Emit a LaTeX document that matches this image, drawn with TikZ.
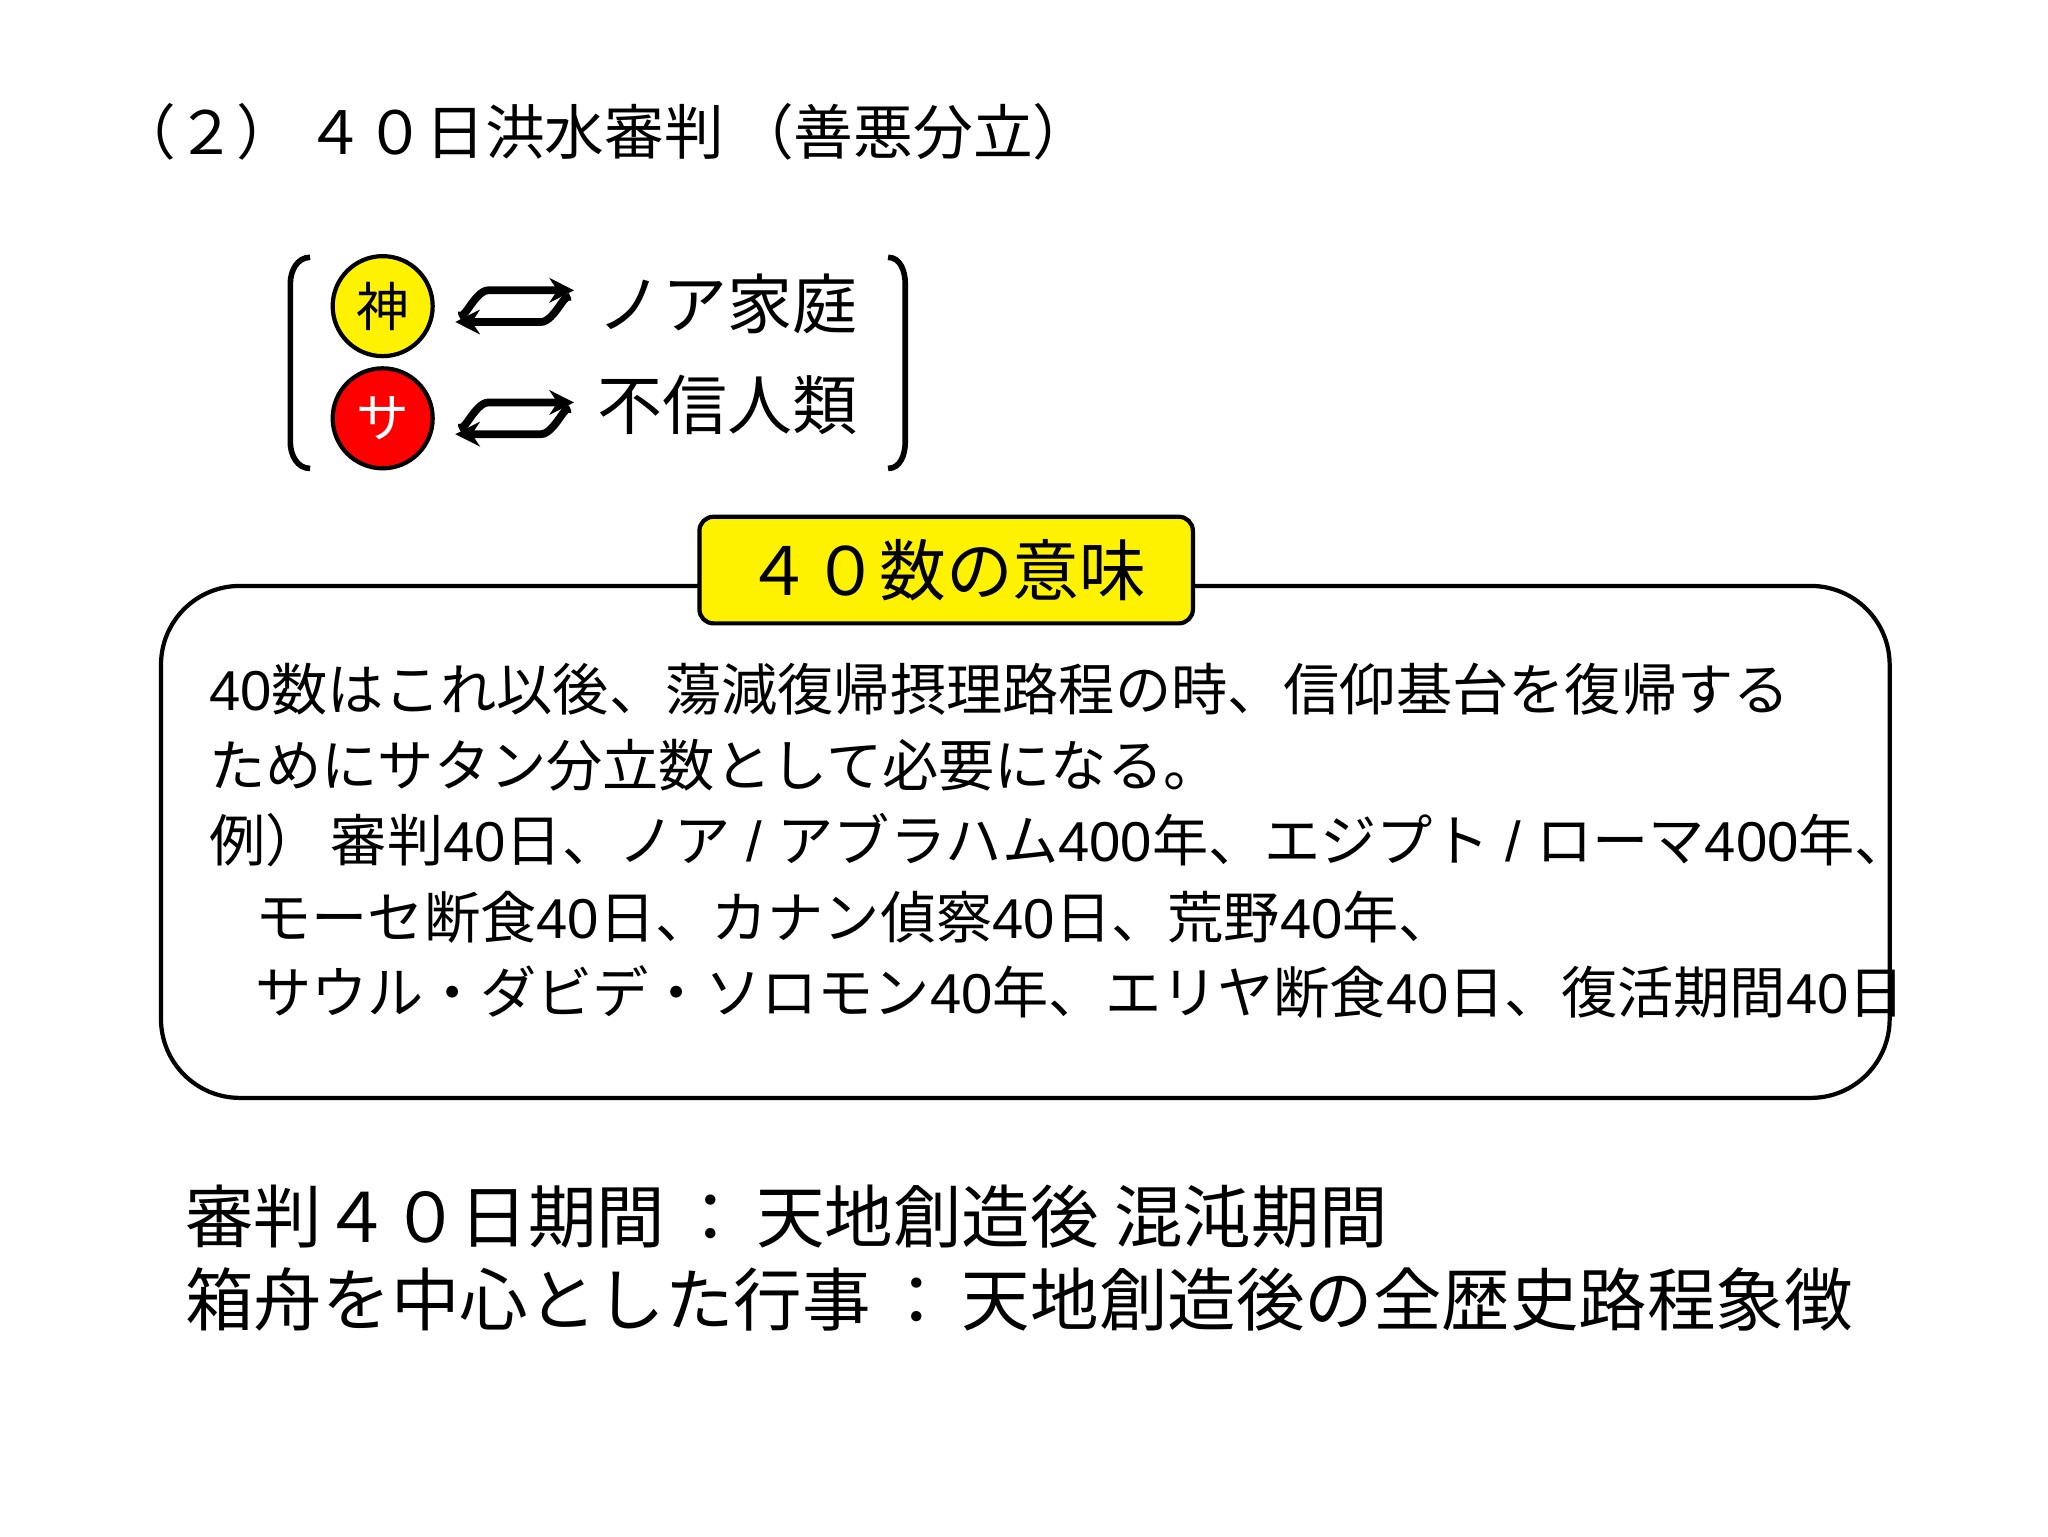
\documentclass[tikz,border=0pt]{standalone}
\usepackage{fontspec}
\usetikzlibrary{arrows.meta,calc}
\setmainfont{Noto Sans CJK JP}
\newfontfamily\lat{Liberation Sans}
\begin{document}
\begin{tikzpicture}[x=0.0132cm,y=-0.0132cm,
  txt/.style={anchor=west,inner sep=0pt},
  arr/.style={line width=2.2pt,-{Stealth[length=7pt,width=7pt]}}]
\useasboundingbox (0,0) rectangle (1552,1164);
\node[txt,font=\fontsize{17}{20}\selectfont] (title) at (88,100) {（２）\,４０日洪水審判\,（善悪分立）};
% bracket
\draw[line width=1.6pt] (235,195) to[out=180,in=90] (220,215) -- (220,335) to[out=-90,in=180] (235,355);
\draw[line width=1.6pt] (673,195) to[out=0,in=90] (686,215) -- (686,335) to[out=-90,in=0] (673,355);
\node[circle,draw,line width=1.2pt,fill=yellow,minimum size=76*0.3745pt,inner sep=0pt,font=\fontsize{15}{18}\selectfont] (kami) at (290,232) {神};
\node[circle,draw,line width=1.2pt,fill=red,text=white,minimum size=76*0.3745pt,inner sep=0pt,font=\fontsize{15}{18}\selectfont] (sa) at (290,317) {サ};
\foreach \y/\n in {232/a,317/b}{
  \coordinate (\n1) at (345,\y);
  \coordinate (\n2) at (435,\y);
  \draw[arr] ($(\n1)+(5,4)$) to[out=-90,in=180] ($(\n1)+(25,-12)$) -- ($(\n2)+(0,-12)$);
  \draw[arr] ($(\n2)+(-5,-4)$) to[out=90,in=0] ($(\n2)+(-25,12)$) -- ($(\n1)+(0,12)$);
}
\node[txt,font=\fontsize{18.5}{22}\selectfont] (noa) at (452,230) {ノア家庭};
\node[txt,font=\fontsize{18.5}{22}\selectfont] (fushin) at (452,307) {不信人類};
% big box
\draw[line width=1.2pt,rounded corners=60*0.3745pt] (122,444) rectangle (1432,832);
\node[draw,line width=1.2pt,fill=yellow,rounded corners=4pt,minimum width=375*0.3745pt,minimum height=81*0.3745pt,font=\fontsize{19}{22}\selectfont] (head) at (717,432) {４０数の意味};
\begin{scope}[font=\fontsize{16}{19}\selectfont]
\node[txt] (l1) at (158,522) {{\lat 40}数はこれ以後、蕩減復帰摂理路程の時、信仰基台を復帰する};
\node[txt] (l2) at (158,580) {ためにサタン分立数として必要になる。};
\node[txt] (l3) at (158,637) {例）\,審判{\lat 40}日、ノア{\lat\ / }アブラハム{\lat 400}年、エジプト{\lat\ / }ローマ{\lat 400}年、};
\node[txt] (l4) at (193,695) {モーセ断食{\lat 40}日、カナン偵察{\lat 40}日、荒野{\lat 40}年、};
\node[txt] (l5) at (193,752) {サウル・ダビデ・ソロモン{\lat 40}年、エリヤ断食{\lat 40}日、復活期間{\lat 40}日};
\end{scope}
\begin{scope}[font=\fontsize{19.5}{24}\selectfont]
\node[txt] (b1) at (140,922) {審判４０日期間\,：\,天地創造後 混沌期間};
\node[txt] (b2) at (140,985) {箱舟を中心とした行事\,：\,天地創造後の全歴史路程象徴};
\end{scope}
\end{tikzpicture}
\end{document}
